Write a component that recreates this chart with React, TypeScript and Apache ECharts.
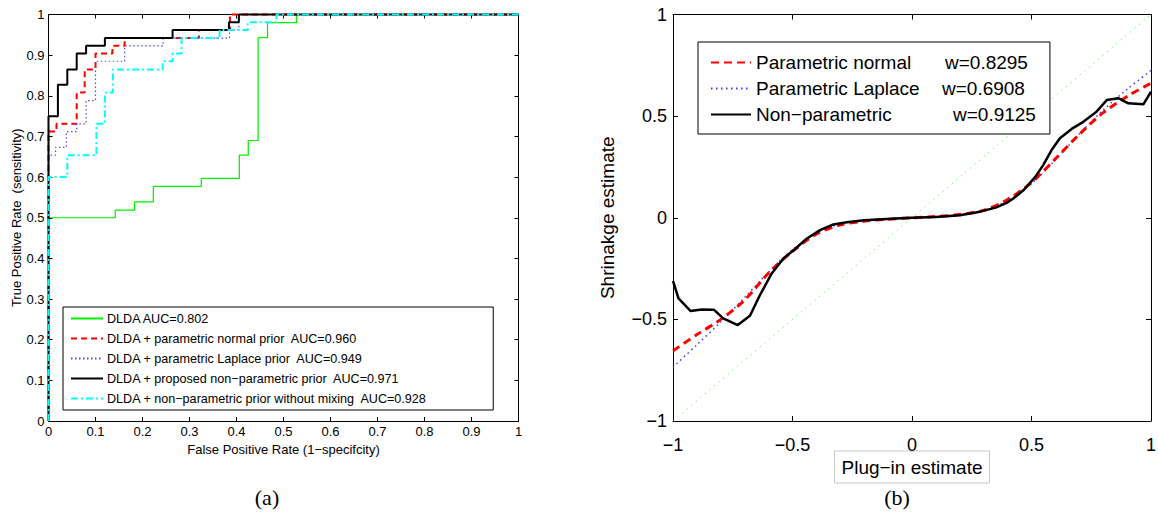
import React, { useEffect, useRef } from "react";
import * as echarts from "echarts";

// ---------- Panel (a): ROC curves ----------
const rocNames = [
  "DLDA AUC=0.802",
  "DLDA + parametric normal prior  AUC=0.960",
  "DLDA + parametric Laplace prior  AUC=0.949",
  "DLDA + proposed non−parametric prior  AUC=0.971",
  "DLDA + non−parametric prior without mixing  AUC=0.928",
];
// each curve: at fpr[i] the tpr jumps up to tpr[i]
const dldaFpr = [0, 0.142, 0.183, 0.223, 0.325, 0.406, 0.425, 0.446, 0.466, 0.528];
const dldaTpr = [0.5, 0.519, 0.539, 0.577, 0.597, 0.654, 0.69, 0.943, 0.98, 1];
const normalFpr = [0, 0.017, 0.06, 0.077, 0.1, 0.136, 0.162, 0.32, 0.386];
const normalTpr = [0.712, 0.731, 0.808, 0.865, 0.904, 0.923, 0.942, 0.962, 1];
const laplaceFpr = [0, 0.015, 0.038, 0.06, 0.08, 0.1, 0.162, 0.244, 0.385, 0.405];
const laplaceTpr = [0.654, 0.673, 0.712, 0.731, 0.788, 0.885, 0.923, 0.942, 0.962, 1];
const nonparFpr = [0, 0.02, 0.04, 0.06, 0.08, 0.12, 0.264, 0.384, 0.405];
const nonparTpr = [0.75, 0.827, 0.865, 0.904, 0.923, 0.942, 0.962, 0.981, 1];
const noMixFpr = [0, 0.04, 0.102, 0.12, 0.137, 0.243, 0.264, 0.283, 0.364, 0.424, 0.485];
const noMixTpr = [0.6, 0.654, 0.731, 0.808, 0.865, 0.885, 0.904, 0.942, 0.962, 0.981, 1];

// ---------- Panel (b): shrinkage ----------
const shrinkNames = ["Parametric normal", "Parametric Laplace", "Non−parametric"];
const shrinkW = ["w=0.8295", "w=0.6908", "w=0.9125"];
const plugX = [-1, -0.9, -0.8, -0.7, -0.6, -0.5, -0.4, -0.3, -0.2, -0.1, 0, 0.1, 0.2, 0.3, 0.4, 0.5, 0.6, 0.7, 0.8, 0.9, 1];
const normalShrink = [-0.655, -0.575, -0.5, -0.405, -0.272, -0.165, -0.08, -0.035, -0.017, -0.007, 0, 0.006, 0.016, 0.036, 0.09, 0.173, 0.29, 0.41, 0.517, 0.597, 0.662];
const laplaceShrink = [-0.735, -0.625, -0.512, -0.392, -0.267, -0.157, -0.075, -0.03, -0.013, -0.005, 0, 0.005, 0.014, 0.035, 0.085, 0.168, 0.285, 0.412, 0.53, 0.632, 0.725];
const npX = [-1, -0.977, -0.926, -0.88, -0.828, -0.79, -0.729, -0.678, -0.636, -0.587, -0.538, -0.49, -0.441, -0.385, -0.329, -0.273, -0.2, -0.105, 0, 0.1, 0.2, 0.285, 0.35, 0.396, 0.424, 0.466, 0.515, 0.549, 0.584, 0.619, 0.668, 0.717, 0.772, 0.815, 0.863, 0.905, 0.968, 1];
const npY = [-0.31, -0.397, -0.459, -0.451, -0.453, -0.495, -0.528, -0.482, -0.38, -0.274, -0.2, -0.155, -0.103, -0.061, -0.033, -0.022, -0.012, -0.006, 0, 0.004, 0.012, 0.03, 0.05, 0.073, 0.095, 0.135, 0.2, 0.259, 0.333, 0.391, 0.437, 0.472, 0.522, 0.579, 0.588, 0.563, 0.558, 0.62];
const diagX = [-1, 1];

const FONT = "'Liberation Sans', Arial, Helvetica, sans-serif";
const SERIF = "'Liberation Serif', 'DejaVu Serif', serif";

function staircase(fpr: number[], tpr: number[]) {
  const pts: number[][] = [[0, 0]];
  let prev = 0;
  for (let i = 0; i < fpr.length; i++) {
    pts.push([fpr[i], prev]);
    pts.push([fpr[i], tpr[i]]);
    prev = tpr[i];
  }
  pts.push([1, prev]);
  return pts;
}
const zip = (xs: number[], ys: number[]) => xs.map((x, i) => [x, ys[i]]);
const minus = (v: number) => (v < 0 ? "−" + Math.abs(v) : String(v));

function axisBase(fs: number, labelMargin: number, tickLen: number) {
  return {
    type: "value" as const,
    axisLine: { show: true, onZero: false, lineStyle: { color: "#000", width: 1 } },
    axisTick: { show: true, inside: true, length: tickLen, lineStyle: { color: "#000" } },
    splitLine: { show: false },
    axisLabel: { color: "#000", fontSize: fs, fontFamily: FONT, margin: labelMargin },
  };
}

export default function App() {
  const ref = useRef<HTMLDivElement>(null);
  useEffect(() => {
    if (!ref.current) return;
    const chart = echarts.init(ref.current, undefined, { renderer: "svg" });
    const LFS = 13;
    const leftAx = (pos: string, labels: boolean, name?: string, gap?: number) => ({
      ...axisBase(LFS, 4, 4),
      min: 0, max: 1, interval: 0.1,
      position: pos,
      axisLabel: { ...axisBase(LFS, 4, 4).axisLabel, show: labels },
      name: name || "",
      nameLocation: "middle",
      nameGap: gap || 0,
      nameTextStyle: { color: "#000", fontSize: LFS, fontFamily: FONT },
    });
    const rightAx = (pos: string, labels: boolean, margin: number, name?: string, gap?: number, boxed?: boolean) => ({
      ...axisBase(18, margin, 5),
      min: -1, max: 1, interval: 0.5,
      position: pos,
      axisLabel: { ...axisBase(18, margin, 5).axisLabel, show: labels, formatter: minus },
      name: name || "",
      nameLocation: "middle",
      nameGap: gap || 0,
      nameMoveOverlap: false,
      nameTextStyle: boxed
        ? { color: "#000", fontSize: 19, fontFamily: FONT, borderColor: "#c8c8c8", borderWidth: 1, padding: [7, 7, 6, 7] }
        : { color: "#000", fontSize: 19, fontFamily: FONT },
    });

    const rocCurves = [
      { f: dldaFpr, t: dldaTpr, color: "#00ee00", width: 1.2, type: "solid" as any },
      { f: normalFpr, t: normalTpr, color: "#ff0000", width: 2, type: [6, 4] },
      { f: laplaceFpr, t: laplaceTpr, color: "#4a4aff", width: 1.2, type: [1.5, 2.5] },
      { f: nonparFpr, t: nonparTpr, color: "#000000", width: 2, type: "solid" },
      { f: noMixFpr, t: noMixTpr, color: "#00ffff", width: 2, type: [7, 3, 2, 3] },
    ];

    const series: any[] = rocCurves.map((c, i) => ({
      name: rocNames[i],
      type: "line",
      xAxisIndex: 0,
      yAxisIndex: 0,
      data: staircase(c.f, c.t),
      showSymbol: false,
      symbol: "none",
      clip: false,
      lineStyle: { color: c.color, width: c.width, type: c.type },
      itemStyle: { color: c.color },
    }));

    series.push({
      name: "diag",
      type: "line",
      xAxisIndex: 2,
      yAxisIndex: 2,
      data: zip(diagX, diagX),
      symbol: "none",
      clip: false,
      lineStyle: { color: "#33dd33", width: 1, type: [1, 5] },
    });
    series.push({
      name: shrinkNames[1],
      type: "line",
      xAxisIndex: 2,
      yAxisIndex: 2,
      data: zip(plugX, laplaceShrink),
      symbol: "none",
      smooth: 0.3,
      clip: false,
      lineStyle: { color: "#3b3bff", width: 1.5, type: [1.5, 3.5] },
      itemStyle: { color: "#3b3bff" },
    });
    series.push({
      name: shrinkNames[0],
      type: "line",
      xAxisIndex: 2,
      yAxisIndex: 2,
      data: zip(plugX, normalShrink),
      symbol: "none",
      smooth: 0.3,
      clip: false,
      lineStyle: { color: "#ff0000", width: 3, type: [8, 5] },
      itemStyle: { color: "#ff0000" },
    });
    series.push({
      name: shrinkNames[2],
      type: "line",
      xAxisIndex: 2,
      yAxisIndex: 2,
      data: zip(npX, npY),
      symbol: "none",
      clip: false,
      lineStyle: { color: "#000", width: 2.5 },
      itemStyle: { color: "#000" },
    });

    const wWidths = [189, 186, 197];
    const RFS = 19;
    const option: any = {
      animation: false,
      backgroundColor: "#fff",
      textStyle: { fontFamily: FONT },
      grid: [
        { left: 48.5, top: 14.5, width: 470, height: 406.5, containLabel: false },
        { left: 673, top: 14.5, width: 478, height: 406.5, containLabel: false },
      ],
      xAxis: [
        { ...leftAx("bottom", true, "False Positive Rate (1−specifcity)", 21), gridIndex: 0 },
        { ...leftAx("top", false), gridIndex: 0 },
        { ...rightAx("bottom", true, 15, "Plug−in estimate", 30, true), gridIndex: 1 },
        { ...rightAx("top", false, 15), gridIndex: 1 },
      ],
      yAxis: [
        { ...leftAx("left", true, "True Positive Rate  (sensitivity)", 25), gridIndex: 0 },
        { ...leftAx("right", false), gridIndex: 0 },
        { ...rightAx("left", true, 6, "Shrinakge estimate", 56), gridIndex: 1 },
        { ...rightAx("right", false, 6), gridIndex: 1 },
      ],
      legend: [
        {
          data: rocNames,
          orient: "vertical",
          left: 63,
          top: 307,
          padding: [5, 66, 5, 7],
          itemGap: 7,
          itemWidth: 32,
          itemHeight: 13,
          borderColor: "#000",
          borderWidth: 1,
          borderRadius: 0,
          backgroundColor: "#fff",
          selectedMode: false,
          itemStyle: { opacity: 0 },
          textStyle: { color: "#000", fontSize: 12.6, fontFamily: FONT, padding: [0, 0, 0, -1] },
        },
        {
          data: shrinkNames,
          orient: "vertical",
          left: 698,
          top: 42,
          padding: [11, 14, 10, 12],
          itemGap: 7,
          itemWidth: 40,
          itemHeight: 20,
          borderColor: "#000",
          borderWidth: 1,
          borderRadius: 0,
          backgroundColor: "#fff",
          selectedMode: false,
          itemStyle: { opacity: 0 },
          formatter: (name: string) => {
            const i = shrinkNames.indexOf(name);
            return `{a${i}|${name}}{w|${shrinkW[i]}}`;
          },
          textStyle: {
            color: "#000",
            fontSize: RFS,
            fontFamily: FONT,
            rich: {
              a0: { width: wWidths[0], fontSize: RFS, lineHeight: 20, fontFamily: FONT, color: "#000" },
              a1: { width: wWidths[1], fontSize: RFS, lineHeight: 20, fontFamily: FONT, color: "#000" },
              a2: { width: wWidths[2], fontSize: RFS, lineHeight: 20, fontFamily: FONT, color: "#000" },
              w: { fontSize: RFS, lineHeight: 20, fontFamily: FONT, color: "#000" },
            },
          },
        },
      ],
      graphic: [
        {
          type: "text",
          x: 267,
          y: 497,
          style: { text: "(a)", fontSize: 22, fontFamily: SERIF, fill: "#000", align: "center", verticalAlign: "middle" },
        },
        {
          type: "text",
          x: 897,
          y: 497,
          style: { text: "(b)", fontSize: 22, fontFamily: SERIF, fill: "#000", align: "center", verticalAlign: "middle" },
        },
      ],
      series,
    };
    chart.setOption(option);
    return () => chart.dispose();
  }, []);
  return (
    <div
      ref={ref}
      style={{ position: "absolute", left: 0, top: 0, width: 1159, height: 515, background: "#fff" }}
    />
  );
}
